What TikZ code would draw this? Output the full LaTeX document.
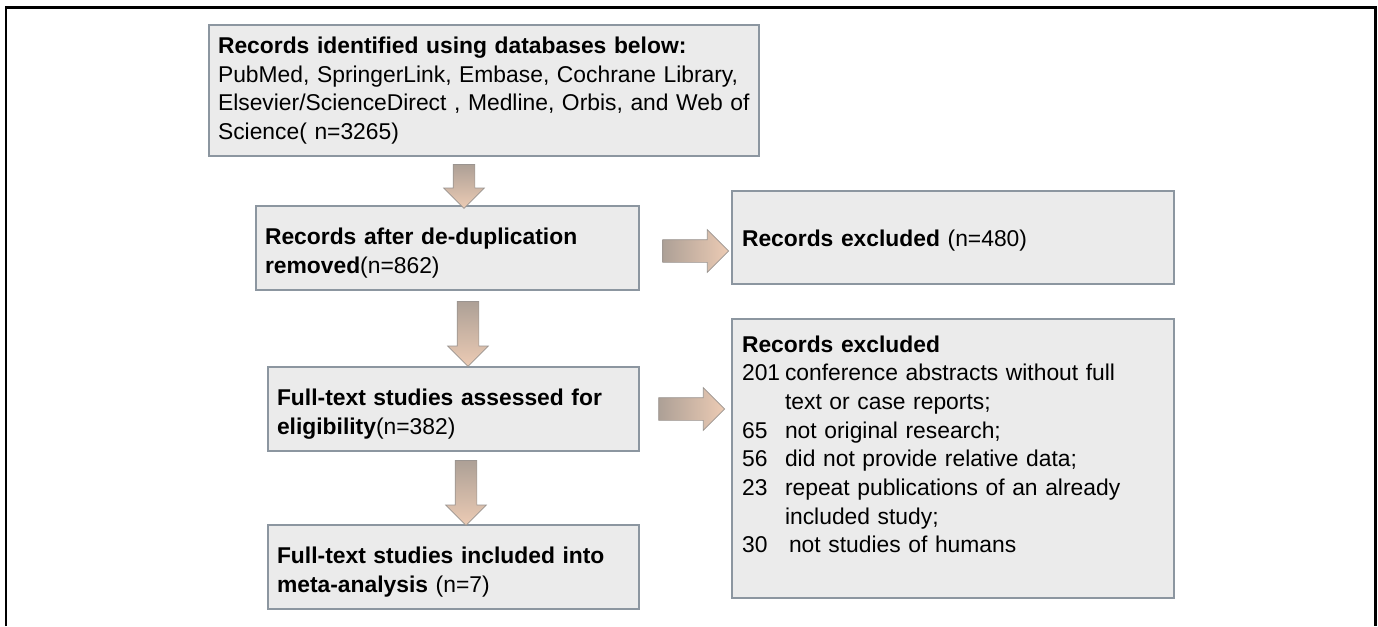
\documentclass[tikz,border=0pt]{standalone}
\usepackage{fontspec}
\setmainfont{Liberation Sans}
\usetikzlibrary{shapes.arrows}

\definecolor{boxfill}{HTML}{EBEBEB}
\definecolor{boxline}{HTML}{8C96A0}
\definecolor{arrowdark}{HTML}{ADA096}
\definecolor{arrowlight}{HTML}{ECCBB4}
\definecolor{arrowline}{HTML}{9A9490}

\begin{document}
\begin{tikzpicture}[
    x=0.02cm, y=-0.02cm,
    every node/.style={font=\fontsize{13}{16.3}\selectfont},
    stagebox/.style={draw=boxline, line width=0.8pt, fill=boxfill, align=left,
        inner xsep=0.18cm, inner ysep=0pt},
    downarrow/.style={single arrow, shape border rotate=270, draw=arrowline,
        top color=arrowdark, bottom color=arrowlight, inner sep=0.21cm,
        single arrow head extend=0.19cm, single arrow tip angle=90},
    rightarrow/.style={single arrow, draw=arrowline,
        left color=arrowdark, right color=arrowlight, inner sep=0.22cm,
        single arrow head extend=0.2cm, single arrow tip angle=90}
]
\useasboundingbox (0,0) rectangle (1378,626);

% --- Frame ---
\draw[line width=0.06cm] (6,626) -- (6,7) -- (1375,7) -- (1375,626);

% --- Main flow ---
\node[stagebox, text width=10.64cm, minimum height=2.62cm] (ident) at (484,90.5)
    {\textbf{Records identified using databases below:}\\
     PubMed, SpringerLink, Embase, Cochrane Library,\\
     Elsevier/ScienceDirect , Medline, Orbis, and Web of\\
     Science( n=3265)};
\node[stagebox, text width=7.3cm, minimum height=1.68cm] (dedup) at (447.5,248)
    {\rule{0pt}{15pt}\textbf{Records after de-duplication}\\ \textbf{removed}(n=862)};
\node[stagebox, text width=7.06cm, minimum height=1.68cm] (assess) at (453.5,409)
    {\rule{0pt}{15pt}\textbf{Full-text studies assessed for}\\ \textbf{eligibility}(n=382)};
\node[stagebox, text width=7.06cm, minimum height=1.68cm] (incl) at (453.5,567)
    {\rule{0pt}{15pt}\textbf{Full-text studies included into}\\ \textbf{meta-analysis} (n=7)};

% --- Exclusions ---
\node[stagebox, text width=8.44cm, minimum height=1.86cm, inner xsep=0.2cm] (excl1) at (953,237.5)
    {\rule{0pt}{13pt}\textbf{Records excluded} (n=480)};
\node[stagebox, text width=8.44cm, minimum height=5.58cm, inner xsep=0.2cm] (excl2) at (953,458.5)
    {\textbf{Records excluded}\\
     \makebox[0.86cm][l]{201}conference abstracts without full\\
     \hspace*{0.86cm}text or case reports;\\
     \makebox[0.86cm][l]{65}not original research;\\
     \makebox[0.86cm][l]{56}did not provide relative data;\\
     \makebox[0.86cm][l]{23}repeat publications of an already\\
     \hspace*{0.86cm}included study;\\
     \makebox[0.94cm][l]{30}not studies of humans\\ \mbox{}};

% --- Block arrows ---
\node[downarrow, minimum height=0.88cm] (a1) at (464,181) {};
\node[downarrow, minimum height=1.3cm] (a2) at (468,328.5) {};
\node[downarrow, minimum height=1.3cm] (a3) at (466,487.5) {};
\node[rightarrow, minimum height=1.32cm] (r1) at (690,251) {};
\node[rightarrow, minimum height=1.32cm] (r2) at (686,409) {};

\end{tikzpicture}
\end{document}
